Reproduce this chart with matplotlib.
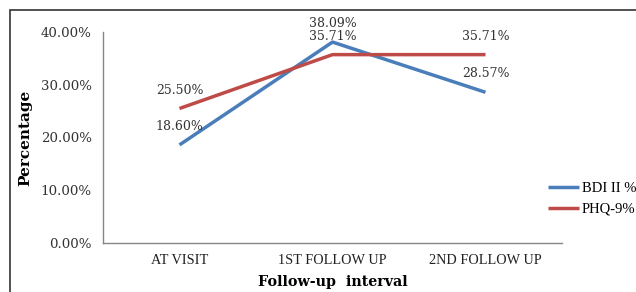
import matplotlib
matplotlib.use('Agg')
import matplotlib.pyplot as plt
from matplotlib.patches import Rectangle

# Data
intervals = ['AT VISIT', '1ST FOLLOW UP', '2ND FOLLOW UP']
bdi = [18.60, 38.09, 28.57]
phq = [25.50, 35.71, 35.71]
yticks = [0, 10, 20, 30, 40]

plt.rcParams['font.family'] = 'DejaVu Serif'

fig = plt.figure(figsize=(6.36, 2.92), dpi=100)
ax = fig.add_axes([103/636, 1 - 243/292, 459/636, 211/292])

x = [0.5, 1.5, 2.5]
ax.plot(x, bdi, color='#4A7EBB', lw=2.5, label='BDI II %', solid_capstyle='butt')
ax.plot(x, phq, color='#BE4B48', lw=2.5, label='PHQ-9%', solid_capstyle='butt')

# data labels
for xi, v in zip(x, bdi):
    ax.annotate(f'{v:.2f}%', (xi, v), xytext=(0, 8.5), textcoords='offset points',
                ha='center', va='bottom', fontsize=9, color='#333333')
for xi, v in zip(x, phq):
    ax.annotate(f'{v:.2f}%', (xi, v), xytext=(0, 8.5), textcoords='offset points',
                ha='center', va='bottom', fontsize=9, color='#333333')

ax.set_xlim(0, 3)
ax.set_ylim(0, 40)
ax.set_xticks(x)
ax.set_xticklabels(intervals, fontsize=10.3, family='Liberation Serif', color='#222222')
ax.set_yticks(yticks)
ax.set_yticklabels([f'{t:.2f}%' for t in yticks], fontsize=9.6, color='#333333')
ax.tick_params(length=0, pad=8)

for s in ['top', 'right']:
    ax.spines[s].set_visible(False)
for s in ['left', 'bottom']:
    ax.spines[s].set_color('#868686')
    ax.spines[s].set_linewidth(1)

ax.set_ylabel('Percentage', fontsize=11, fontweight='bold', labelpad=6)
ax.set_xlabel('Follow-up  interval', fontsize=10.3, fontweight='bold', labelpad=6)

ax.legend(loc='upper left', bbox_to_anchor=(548/636, 1 - 182/292), bbox_transform=fig.transFigure,
          frameon=False, prop={'family': 'Liberation Serif', 'size': 10.5},
          handlelength=2.1, handletextpad=0.2, labelspacing=0.5, borderaxespad=0, borderpad=0)

# outer frame (cut off at right and bottom)
fig.patches.append(Rectangle((10/636, -0.1), 1.2, 1 - 10/292 + 0.1, transform=fig.transFigure,
                             fill=False, edgecolor='#333333', lw=1.2))

fig.savefig('out.png', dpi=100)
